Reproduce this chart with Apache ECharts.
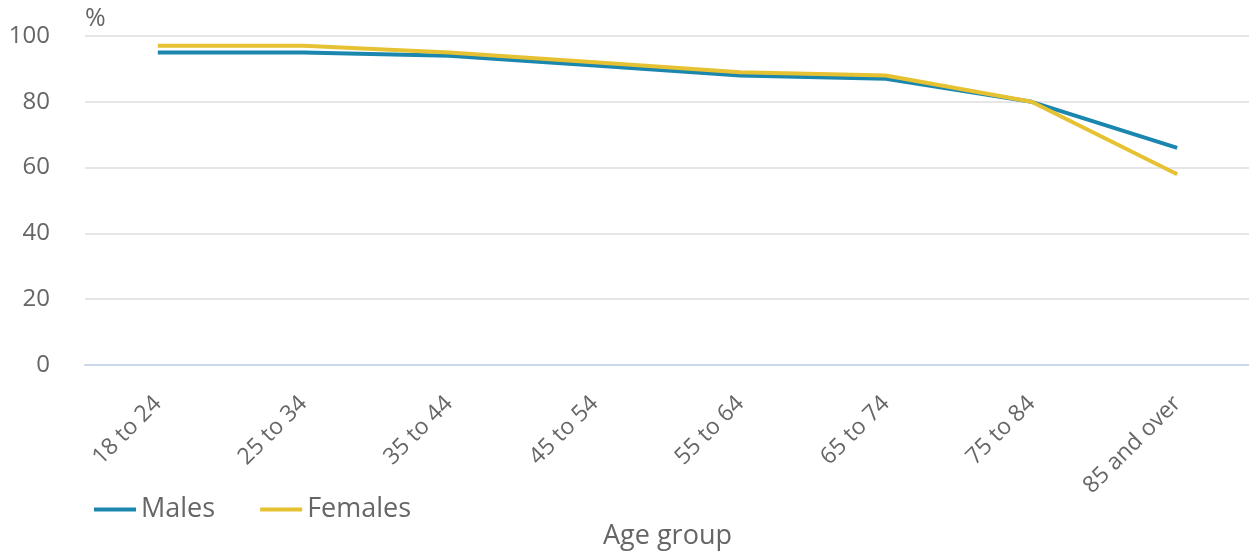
<!DOCTYPE html>
<html>
<head>
<meta charset="utf-8">
<script src="https://cdn.jsdelivr.net/npm/echarts@6/dist/echarts.min.js"></script>
<style>
  html, body { margin: 0; padding: 0; background: #fff; overflow: hidden; }
  #chart { width: 1249px; height: 551px; }
</style>
</head>
<body>
<div id="chart"></div>
<script>
const categories = ['18 to 24', '25 to 34', '35 to 44', '45 to 54', '55 to 64', '65 to 74', '75 to 84', '85 and over'];
const males = [95, 95, 94, 91, 88, 87, 80, 66];
const females = [97, 97, 95, 92, 89, 88, 80, 58];
const yTicks = { min: 0, max: 100, interval: 20 };

const chart = echarts.init(document.getElementById('chart'), null, { renderer: 'canvas' });
const font = '"Open Sans", "Noto Sans", sans-serif';
chart.setOption({
  animation: false,
  textStyle: { fontFamily: font },
  grid: { left: 85, right: -1, top: 36, bottom: 186, containLabel: false, outerBoundsMode: 'none' },
  legend: {
    left: 89, top: 491,
    itemWidth: 42, itemHeight: 4, itemGap: 45,
    icon: 'rect',
    textStyle: { fontSize: 27, color: '#666666', fontFamily: font },
    data: ['Males', 'Females']
  },
  xAxis: {
    type: 'category',
    data: categories,
    boundaryGap: true,
    name: 'Age group',
    nameLocation: 'middle',
    nameGap: 158,
    nameTextStyle: { fontSize: 27, color: '#666666', fontFamily: font },
    axisLine: { lineStyle: { color: '#ccd6eb', width: 2 } },
    axisTick: { alignWithLabel: true, length: 20, lineStyle: { color: '#ccd6eb', width: 2 } },
    axisLabel: { rotate: 45, fontSize: 23, color: '#666666', margin: 35, fontFamily: font, interval: 0 },
    splitLine: { show: false }
  },
  yAxis: {
    type: 'value',
    min: yTicks.min, max: yTicks.max, interval: yTicks.interval,
    name: '%',
    nameLocation: 'end',
    nameGap: 5,
    nameTextStyle: { fontSize: 25, color: '#666666', align: 'left', fontFamily: font },
    axisLine: { show: false },
    axisTick: { show: false },
    axisLabel: { fontSize: 24, color: '#666666', margin: 35, fontFamily: font },
    splitLine: { lineStyle: { color: '#e6e6e6', width: 2 } }
  },
  series: [
    {
      name: 'Males', type: 'line', data: males,
      symbol: 'none', lineStyle: { width: 4, color: '#1b86ae' }, itemStyle: { color: '#1b86ae' }
    },
    {
      name: 'Females', type: 'line', data: females,
      symbol: 'none', lineStyle: { width: 4, color: '#e6c233' }, itemStyle: { color: '#e6c233' }
    }
  ]
});
</script>
</body>
</html>
